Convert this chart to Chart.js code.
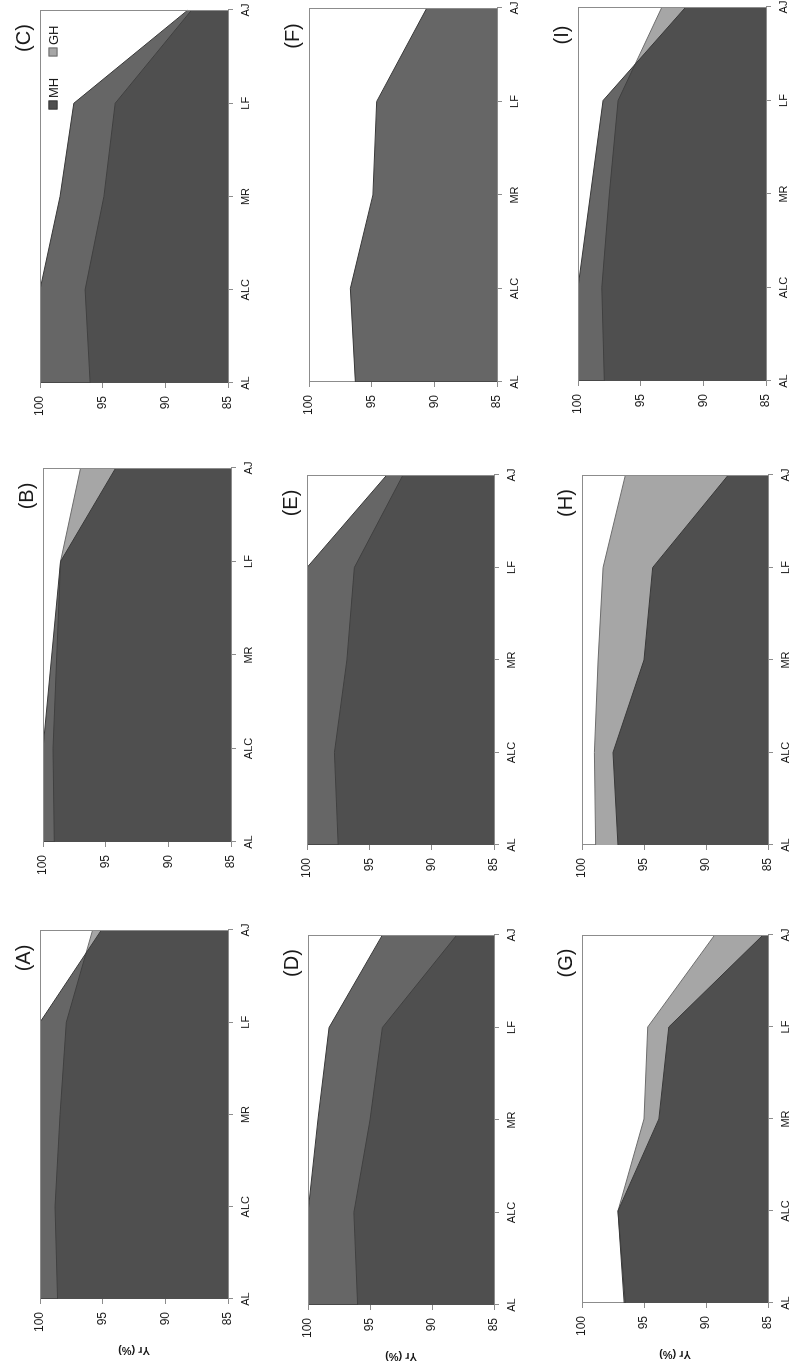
<!DOCTYPE html>
<html>
<head>
<meta charset="utf-8">
<script src="https://cdn.jsdelivr.net/npm/chart.js@4.4.1/dist/chart.umd.min.js"></script>
<style>
html,body{margin:0;padding:0;background:#fff;width:795px;height:1370px;overflow:hidden;}
#fig{position:absolute;left:0;top:0;width:1370px;height:795px;transform-origin:0 0;transform:translate(0,1370px) rotate(-90deg);}
.cell{position:absolute;}
.lab{position:absolute;font:20px "Liberation Sans",Arial,sans-serif;color:#1a1a1a;transform:translate(-50%,-50%);white-space:nowrap;line-height:1;}
.leg{position:absolute;font:13px "Liberation Sans",Arial,sans-serif;color:#1a1a1a;white-space:nowrap;line-height:1;transform:translateY(-50%);}
.sw{position:absolute;width:9px;height:9px;transform:translate(-50%,-50%);box-sizing:border-box;}
</style>
</head>
<body>
<div id="fig"></div>
<script>
// ---- data ----
const categories = ['AL', 'ALC', 'MR', 'LF', 'AJ'];
const yTickValues = [85, 90, 95, 100];
const panelLabels = ['(A)', '(B)', '(C)', '(D)', '(E)', '(F)', '(G)', '(H)', '(I)'];
const seriesNames = ['MH', 'GH'];
const yTitle = 'Yr (%)';

const mhA = [100, 100, 100, 100, 95.1];
const ghA = [98.6, 98.8, 98.4, 97.9, 95.8];
const mhB = [100, 100, 99.3, 98.6, 94.2];
const ghB = [99.1, 99.2, 98.9, 98.6, 97.0];
const mhC = [100, 100, 98.4, 97.3, 88.2];
const ghC = [96.0, 96.4, 94.9, 94.0, 87.9];
const mhD = [100, 100, 99.2, 98.3, 94.0];
const ghD = [96.0, 96.3, 95.0, 94.0, 88.0];
const mhE = [100, 100, 100, 100, 93.6];
const ghE = [97.5, 97.8, 96.8, 96.2, 92.3];
const mhF = [96.3, 96.7, 94.9, 94.6, 90.6];
const ghF = null;
const mhG = [96.6, 97.1, 93.8, 93.0, 85.4];
const ghG = [96.5, 97.1, 95.0, 94.7, 89.3];
const mhH = [97.1, 97.5, 95.0, 94.3, 88.2];
const ghH = [98.9, 99.0, 98.7, 98.3, 96.5];
const mhI = [100, 100, 99.0, 98.0, 91.4];
const ghI = [97.9, 98.1, 97.5, 96.8, 93.3];

const mhSeries = [mhA, mhB, mhC, mhD, mhE, mhF, mhG, mhH, mhI];
const ghSeries = [ghA, ghB, ghC, ghD, ghE, ghF, ghG, ghH, ghI];

// ---- layout (unrotated figure coords, 1370 x 795) ----
const plotRects = [
  {x: 71, y: 40, w: 369, h: 188}, {x: 528, y: 43, w: 374, h: 188}, {x: 987, y: 40, w: 373, h: 188},
  {x: 65, y: 308, w: 370, h: 186}, {x: 525, y: 307, w: 370, h: 187}, {x: 988, y: 309, w: 374, h: 188},
  {x: 67, y: 582, w: 368, h: 186}, {x: 525, y: 582, w: 370, h: 186}, {x: 989, y: 578, w: 374, h: 188}
];
const M = {L: 75, T: 45, R: 25, B: 40};
const FONT = '"Liberation Sans", Arial, sans-serif';
const AXIS_COLOR = '#8c8c8c';
const TEXT_COLOR = '#1a1a1a';
const MH_FILL = 'rgba(48,48,48,0.74)';
const GH_FILL = '#a6a6a6';

Chart.defaults.font.family = FONT;

const framePlugin = {
  id: 'frame',
  afterDatasetsDraw(chart) {
    const {ctx, chartArea: a} = chart;
    ctx.save();
    ctx.strokeStyle = AXIS_COLOR;
    ctx.lineWidth = 1;
    ctx.beginPath();
    ctx.moveTo(a.left, Math.round(a.top) + 0.5);
    ctx.lineTo(a.right, Math.round(a.top) + 0.5);
    ctx.moveTo(Math.round(a.right) - 0.5, a.top);
    ctx.lineTo(Math.round(a.right) - 0.5, a.bottom);
    ctx.stroke();
    ctx.restore();
  }
};

const fig = document.getElementById('fig');

for (let i = 0; i < 9; i++) {
  const r = plotRects[i];
  const col = i % 3;
  const cw = r.w + M.L + M.R, ch = r.h + M.T + M.B;
  const div = document.createElement('div');
  div.className = 'cell';
  div.style.left = (r.x - M.L) + 'px';
  div.style.top = (r.y - M.T) + 'px';
  div.style.width = cw + 'px';
  div.style.height = ch + 'px';
  const cv = document.createElement('canvas');
  cv.width = cw; cv.height = ch;
  cv.style.width = cw + 'px'; cv.style.height = ch + 'px';
  div.appendChild(cv);
  fig.appendChild(div);

  const datasets = [{
    label: seriesNames[0], data: mhSeries[i], fill: 'start',
    backgroundColor: MH_FILL, borderColor: '#3a3a3a', borderWidth: 1,
    pointRadius: 0, tension: 0
  }];
  if (ghSeries[i]) {
    datasets.push({
      label: seriesNames[1], data: ghSeries[i], fill: 'start',
      backgroundColor: GH_FILL, borderColor: '#6e6e6e', borderWidth: 1,
      pointRadius: 0, tension: 0
    });
  }

  new Chart(cv, {
    type: 'line',
    data: {labels: categories, datasets},
    options: {
      responsive: false, animation: false, maintainAspectRatio: false,
      layout: {padding: {top: M.T, right: M.R, left: 0, bottom: 0}},
      plugins: {legend: {display: false}, tooltip: {enabled: false}, title: {display: false}},
      scales: {
        x: {
          type: 'category', offset: false,
          grid: {display: true, drawOnChartArea: false, drawTicks: true, tickLength: 5, color: AXIS_COLOR},
          border: {display: true, color: AXIS_COLOR},
          ticks: {font: {size: 11}, color: TEXT_COLOR, padding: 6, maxRotation: 0, minRotation: 0, autoSkip: false},
          afterFit: s => { s.height = M.B; }
        },
        y: {
          min: yTickValues[0], max: yTickValues[yTickValues.length - 1],
          afterBuildTicks: s => { s.ticks = yTickValues.map(v => ({value: v})); },
          grid: {display: true, drawOnChartArea: false, drawTicks: true, tickLength: 5, color: AXIS_COLOR},
          border: {display: true, color: AXIS_COLOR},
          ticks: {font: {size: 12}, color: TEXT_COLOR, padding: 8},
          title: {display: col === 0, text: yTitle, color: TEXT_COLOR, font: {size: 11, weight: 'bold'}, padding: {top: 17, bottom: 0}},
          afterFit: s => { s.width = M.L; }
        }
      }
    },
    plugins: [framePlugin]
  });

  const lab = document.createElement('div');
  lab.className = 'lab';
  lab.textContent = panelLabels[i];
  lab.style.left = (r.x + r.w - 28) + 'px';
  lab.style.top = (r.y - 17) + 'px';
  fig.appendChild(lab);

  if (i === 2) {
    const items = [
      {name: seriesNames[0], dx: 95, bg: '#4e4e4e', bd: '#3a3a3a'},
      {name: seriesNames[1], dx: 42, bg: GH_FILL, bd: '#6e6e6e'}
    ];
    items.forEach(it => {
      const sw = document.createElement('div');
      sw.className = 'sw';
      sw.style.left = (r.x + r.w - it.dx) + 'px';
      sw.style.top = (r.y + 13) + 'px';
      sw.style.background = it.bg;
      sw.style.border = '1px solid ' + it.bd;
      fig.appendChild(sw);
      const t = document.createElement('div');
      t.className = 'leg';
      t.textContent = it.name;
      t.style.left = (r.x + r.w - it.dx + 7) + 'px';
      t.style.top = (r.y + 13) + 'px';
      fig.appendChild(t);
    });
  }
}
</script>
</body>
</html>
